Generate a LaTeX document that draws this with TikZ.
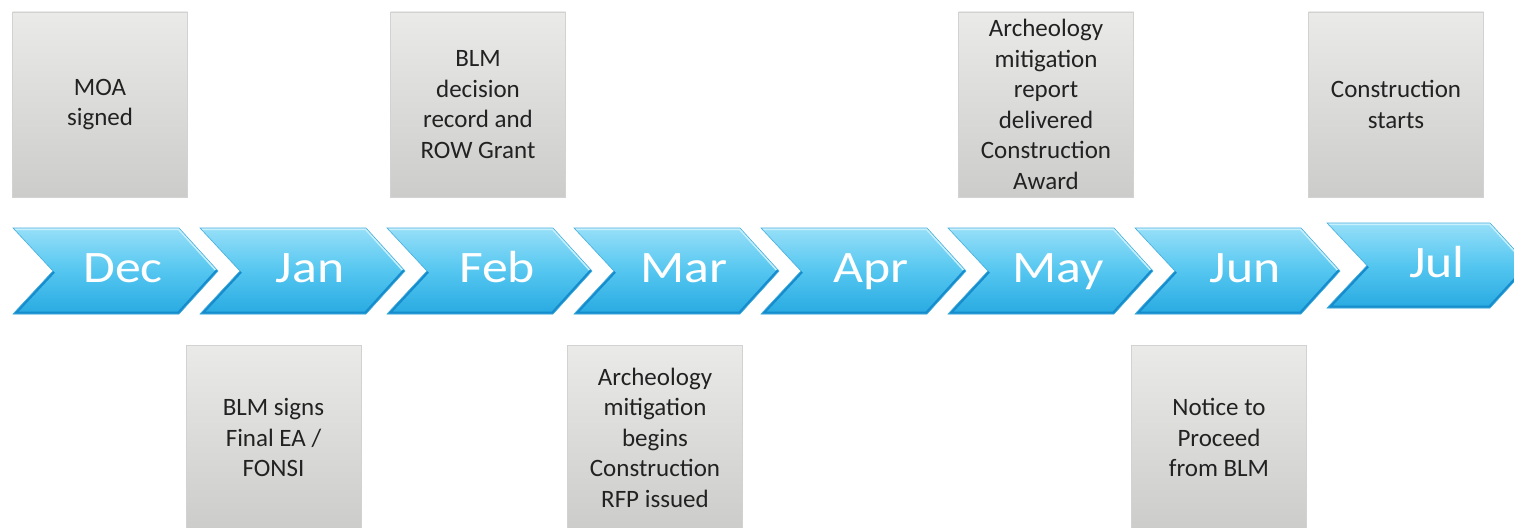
\documentclass[tikz,border=0pt]{standalone}
\usepackage{fontspec}
\setmainfont{Carlito}
\usepackage{graphicx}
\definecolor{boxtop}{RGB}{234,235,233}
\definecolor{boxbot}{RGB}{204,205,203}
\definecolor{chtop}{RGB}{150,223,248}
\definecolor{chmid}{RGB}{84,198,240}
\definecolor{chbot}{RGB}{40,170,225}
\definecolor{chedge}{RGB}{70,175,222}
\definecolor{chhi}{RGB}{200,240,252}
\definecolor{chlo}{RGB}{22,140,205}
\definecolor{txt}{RGB}{34,34,34}
\tikzset{
  event/.style={shape=rectangle, minimum width=175pt, minimum height=185pt,
    inner sep=0pt, top color=boxtop, bottom color=boxbot, draw=gray!35,
    line width=0.6pt, align=center, text=txt,
    font=\fontsize{25}{30.5}\selectfont},
  month/.style={text=white, font=\fontsize{45}{50}\selectfont, anchor=base,
    inner sep=0pt},
  chev/.style={top color=chtop, bottom color=chbot, middle color=chmid},
  chevhi/.style={draw=chhi, line width=4pt, line join=round},
  chevlo/.style={draw=chlo, line width=5pt, line join=round}
}
\begin{document}
\begin{tikzpicture}[x=1pt,y=-1pt]
\useasboundingbox (0,0) rectangle (1514,527);
\clip (0,0) rectangle (1514,527);
\fill[white] (0,0) rectangle (1514,527);
% chevrons
\foreach \L/\T/\W/\H/\B/\nm/\lab in {13/228/166/43/282/dec/Dec,200/228/166/43/282/jan/Jan,387/228/166/43/282/feb/Feb,574/228/166/43/282/mar/Mar,761/228/166/43/282/apr/Apr,948/228/166/43/282/may/May,1135/228/166/43/282/jun/Jun,1327/223/163/42.5/277/jul/Jul}{
  \begin{scope}
    \clip (\L,\T) -- ++(\W,0) -- ++(39,\H) -- ++(-39,\H) -- ++(-\W,0) -- ++(40,-\H) -- cycle;
    \path[chev] (\L,\T) -- ++(\W,0) -- ++(39,\H) -- ++(-39,\H) -- ++(-\W,0) -- ++(40,-\H) -- cycle;
    \path[chevhi] (\L,\T) -- ++(\W,0) -- ++(39,\H);
    \path[chevlo] ({\L+40},{\T+\H}) -- ++(-40,\H) -- ++(\W,0) -- ++(39,-\H);
  \end{scope}
  \path[draw=chedge, line width=0.6pt] (\L,\T) -- ++(\W,0) -- ++(39,\H) -- ++(-39,\H) -- ++(-\W,0) -- ++(40,-\H) -- cycle;
  \node[month] (m\nm) at ({\L+110},\B) {\scalebox{1.15}[1]{\lab}};
}
% top events
\node[event] (moa) at (100,104.5) {MOA\\signed};
\node[event] (rowg) at (478,104.5) {BLM\\decision\\record and\\ROW Grant};
\node[event] (arrep) at (1046,104.5) {Archeology\\mitigation\\report\\delivered\\Construction\\Award};
\node[event] (cstart) at (1396,104.5) {Construction\\starts};
% bottom events
\node[event] (fonsi) at (273.5,437.5) {BLM signs\\Final EA /\\FONSI};
\node[event] (arbeg) at (655,437.5) {Archeology\\mitigation\\begins\\Construction\\RFP issued};
\node[event] (ntp) at (1219,437.5) {Notice to\\Proceed\\from BLM};
\end{tikzpicture}
\end{document}
